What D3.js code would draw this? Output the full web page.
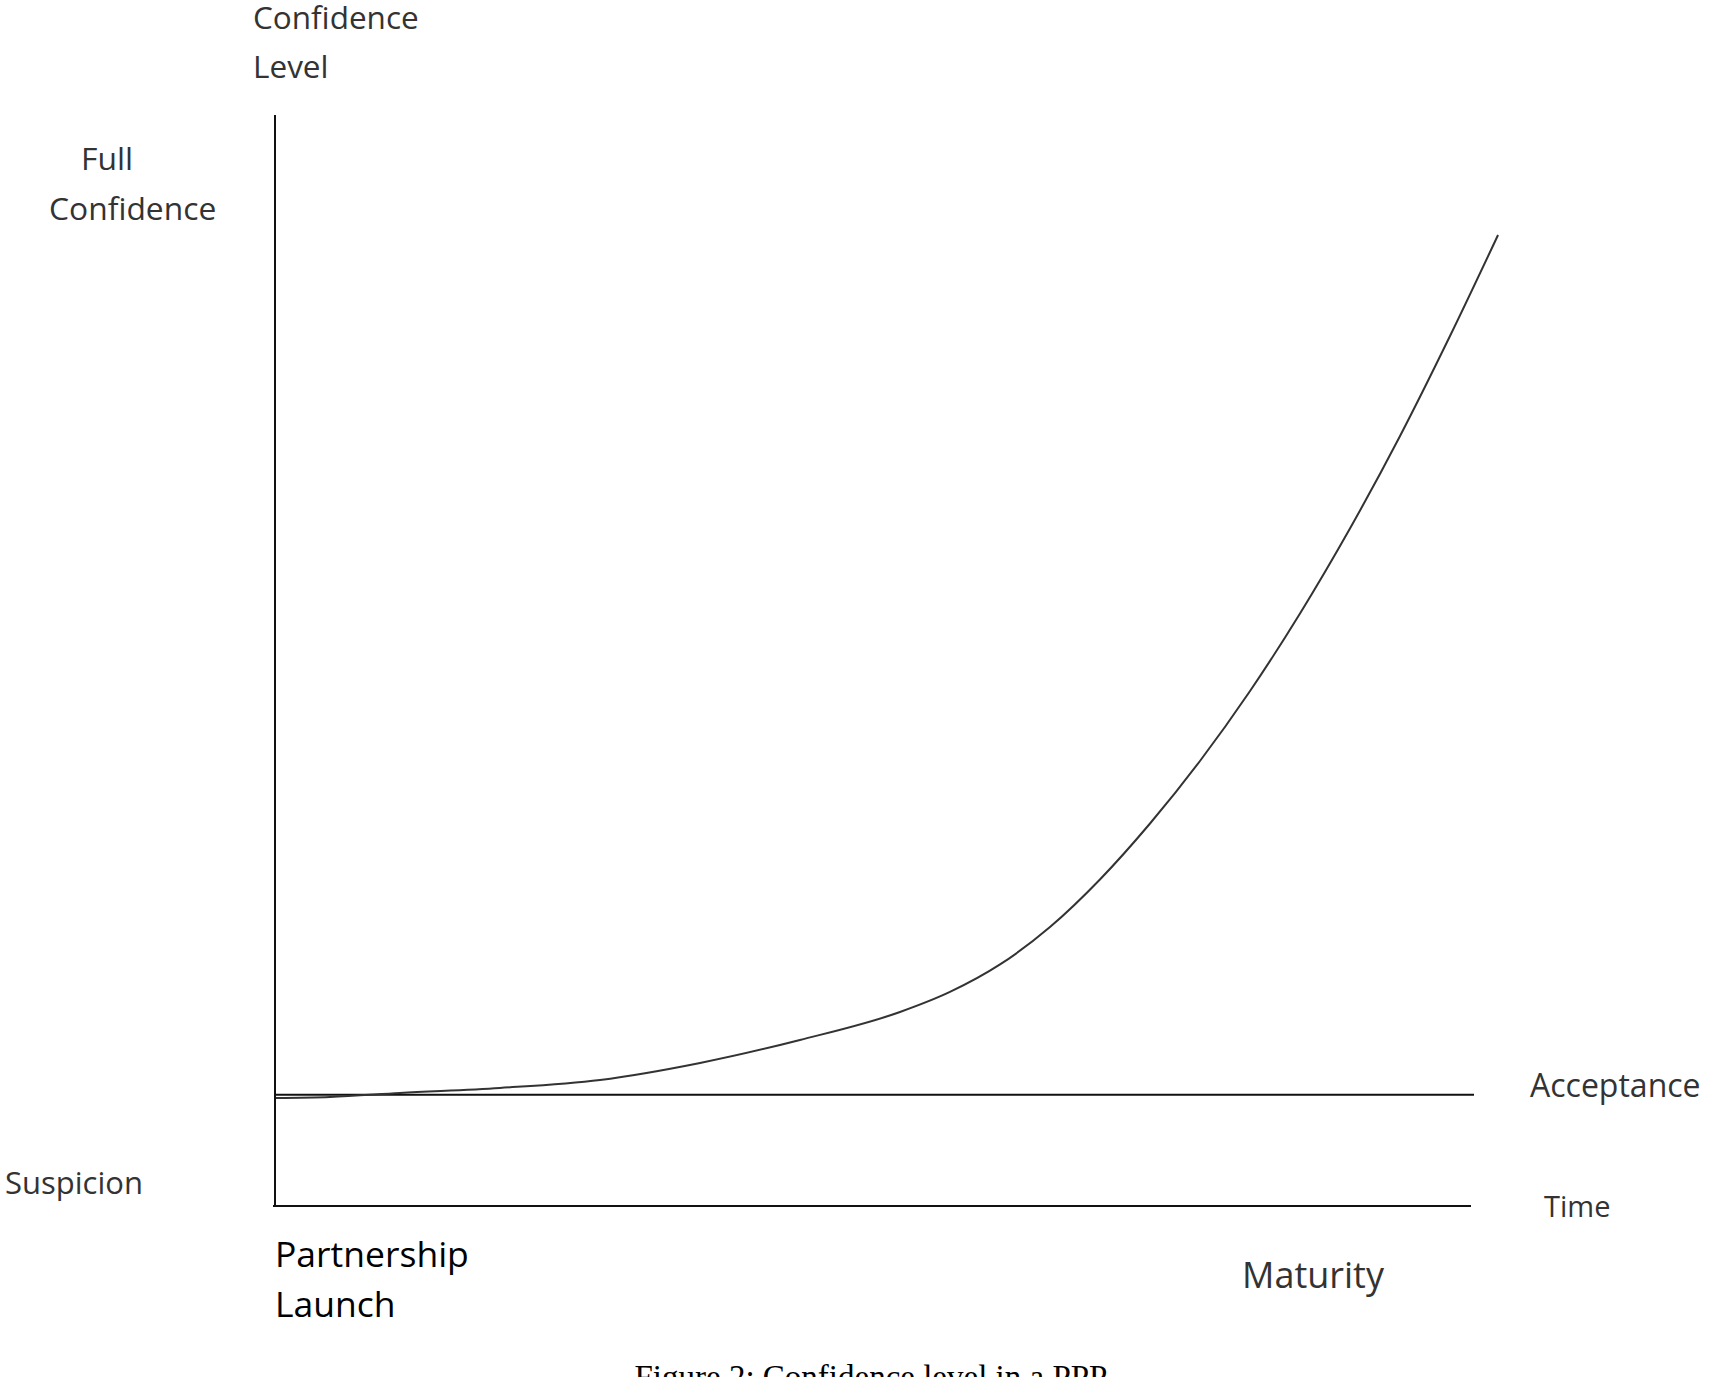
<!DOCTYPE html>
<html>
<head>
<meta charset="utf-8">
<script src="https://cdn.jsdelivr.net/npm/d3@7"></script>
<style>
  body { margin: 0; background: #fff; }
  .lbl { font-family: "Open Sans", sans-serif; fill: #333; }
  .big { font-family: "Open Sans", sans-serif; fill: #000; }
  .caption { font-family: "Liberation Serif", "Times New Roman", serif; fill: #000; }
</style>
</head>
<body>
<div id="chart"></div>
<script>
// time runs 0..100 along the axis, confidence 0 (suspicion) .. 100 (top of axis)
const curveTime = [0.08, 4.59, 10.43, 18.78, 27.13, 35.48, 43.82, 52.17, 56.34, 60.52, 64.69, 68.86, 73.04, 77.21, 81.39, 85.56, 89.73, 93.91, 98.08, 102.09];
const curveConfidence = [9.90, 9.99, 10.36, 10.82, 11.55, 13.11, 15.22, 17.78, 19.62, 22.14, 25.57, 29.93, 35.06, 40.79, 47.20, 54.31, 62.10, 70.58, 79.74, 89.00];
const acceptanceLevel = 10.2;

const yAxisTitle = ["Confidence", "Level"];
const topLevel = ["Full", "Confidence"];
const bottomLevel = "Suspicion";
const acceptanceLabel = "Acceptance";
const xAxisTitle = "Time";
const startLabel = ["Partnership", "Launch"];
const endLabel = "Maturity";
const caption = "Figure 2: Confidence level in a PPP";

const width = 1712;
const height = 1377;

const svg = d3.select("#chart")
    .append("svg")
    .attr("width", width)
    .attr("height", height)
    .attr("viewBox", `0 0 ${width} ${height}`);

const x = d3.scaleLinear().domain([0, 100]).range([275, 1473]);
const y = d3.scaleLinear().domain([0, 100]).range([1206, 115]);

// axes: plain lines, no ticks
svg.append("line")
   .attr("x1", x(0)).attr("x2", x(0))
   .attr("y1", y(100)).attr("y2", y(0) + 1)
   .attr("stroke", "#111").attr("stroke-width", 2);

svg.append("line")
   .attr("x1", x(0) - 2).attr("x2", x(100) - 2)
   .attr("y1", y(0)).attr("y2", y(0))
   .attr("stroke", "#111").attr("stroke-width", 2);

svg.append("line")
   .attr("x1", x(0)).attr("x2", x(100) + 1)
   .attr("y1", y(acceptanceLevel)).attr("y2", y(acceptanceLevel))
   .attr("stroke", "#111").attr("stroke-width", 2);

const points = curveTime.map((t, i) => [t, curveConfidence[i]]);

const line = d3.line()
    .x(d => x(d[0]))
    .y(d => y(d[1]))
    .curve(d3.curveMonotoneX);

svg.append("path")
   .datum(points)
   .attr("d", line)
   .attr("fill", "none")
   .attr("stroke", "#333")
   .attr("stroke-width", 2);

// labels
svg.selectAll(".ytitle")
   .data(yAxisTitle)
   .enter()
   .append("text")
   .attr("class", "lbl")
   .attr("x", 253)
   .attr("y", (d, i) => 29 + i * 49)
   .attr("font-size", 31.5)
   .text(d => d);

svg.append("text").attr("class", "lbl")
   .attr("x", 81).attr("y", 170).attr("font-size", 31.8).text(topLevel[0]);
svg.append("text").attr("class", "lbl")
   .attr("x", 49).attr("y", 220).attr("font-size", 31.8).text(topLevel[1]);

svg.append("text").attr("class", "lbl")
   .attr("x", 5).attr("y", 1194).attr("font-size", 31).text(bottomLevel);

svg.append("text").attr("class", "lbl")
   .attr("x", 1530).attr("y", y(acceptanceLevel) + 2).attr("font-size", 32).text(acceptanceLabel);

svg.append("text").attr("class", "lbl")
   .attr("x", 1544).attr("y", y(0) + 11).attr("font-size", 29).text(xAxisTitle);

svg.selectAll(".start")
   .data(startLabel)
   .enter()
   .append("text")
   .attr("class", "big")
   .attr("x", x(0))
   .attr("y", (d, i) => 1267 + i * 50)
   .attr("font-size", 35.5)
   .text(d => d);

svg.append("text").attr("class", "lbl")
   .attr("x", 1242).attr("y", 1288).attr("font-size", 36).text(endLabel);

svg.append("text").attr("class", "caption")
   .attr("x", 871).attr("y", 1388)
   .attr("text-anchor", "middle")
   .attr("font-size", 33)
   .text(caption);
</script>
</body>
</html>
